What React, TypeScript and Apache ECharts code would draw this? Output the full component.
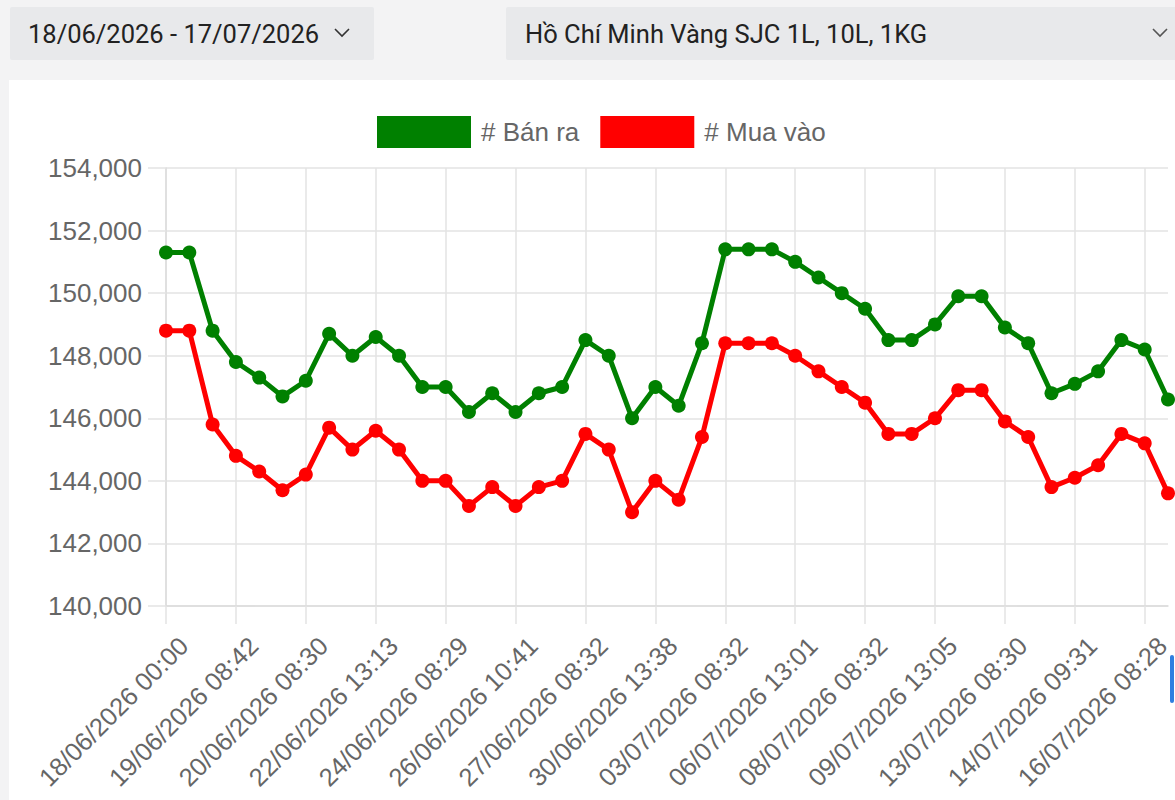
import React, { useEffect, useRef } from 'react';
import * as echarts from 'echarts';

const dateRangeText = '18/06/2026 - 17/07/2026';
const locationText = 'Hồ Chí Minh Vàng SJC 1L, 10L, 1KG';
const legendNames = ['# Bán ra', '# Mua vào'];

const categories = [
  '18/06/2026 00:00', '18/06/2026 08:35', '18/06/2026 13:20',
  '19/06/2026 08:42', '19/06/2026 13:15', '19/06/2026 15:10',
  '20/06/2026 08:30', '20/06/2026 13:40', '22/06/2026 08:35',
  '22/06/2026 13:13', '23/06/2026 08:30', '23/06/2026 13:20',
  '24/06/2026 08:29', '24/06/2026 13:30', '25/06/2026 08:35',
  '26/06/2026 10:41', '26/06/2026 14:05', '26/06/2026 16:20',
  '27/06/2026 08:32', '29/06/2026 08:30', '29/06/2026 13:45',
  '30/06/2026 13:38', '01/07/2026 08:30', '02/07/2026 08:35',
  '03/07/2026 08:32', '04/07/2026 08:30', '06/07/2026 08:30',
  '06/07/2026 13:01', '07/07/2026 08:31', '07/07/2026 13:10',
  '08/07/2026 08:32', '08/07/2026 13:15', '09/07/2026 08:30',
  '09/07/2026 13:05', '10/07/2026 08:30', '11/07/2026 08:35',
  '13/07/2026 08:30', '13/07/2026 13:20', '14/07/2026 08:30',
  '14/07/2026 09:31', '15/07/2026 08:30', '15/07/2026 13:10',
  '16/07/2026 08:28', '17/07/2026 08:30',
];

const banRa = [
  151300, 151300, 148800, 147800, 147300, 146700, 147200, 148700, 148000, 148600,
  148000, 147000, 147000, 146200, 146800, 146200, 146800, 147000, 148500, 148000,
  146000, 147000, 146400, 148400, 151400, 151400, 151400, 151000, 150500, 150000,
  149500, 148500, 148500, 149000, 149900, 149900, 148900, 148400, 146800, 147100,
  147500, 148500, 148200, 146600,
];

const muaVao = [
  148800, 148800, 145800, 144800, 144300, 143700, 144200, 145700, 145000, 145600,
  145000, 144000, 144000, 143200, 143800, 143200, 143800, 144000, 145500, 145000,
  143000, 144000, 143400, 145400, 148400, 148400, 148400, 148000, 147500, 147000,
  146500, 145500, 145500, 146000, 146900, 146900, 145900, 145400, 143800, 144100,
  144500, 145500, 145200, 143600,
];

const yMin = 140000;
const yMax = 154000;
const yStep = 2000;

const chartFont = 'Liberation Sans, Arial, Helvetica, sans-serif';
const uiFont = 'Roboto, Noto Sans, sans-serif';

export default function App() {
  const ref = useRef<HTMLDivElement>(null);

  useEffect(() => {
    document.body.style.margin = '0';
    const chart = echarts.init(ref.current!, null, { renderer: 'svg' });
    chart.setOption({
      animation: false,
      backgroundColor: '#f3f3f4',
      textStyle: { fontFamily: chartFont },
      graphic: [
        { type: 'rect', z: -10, shape: { x: 10, y: 7, width: 364, height: 53, r: 2 }, style: { fill: '#e8e9eb' } },
        { type: 'text', z: -5, style: { text: dateRangeText, x: 28, y: 34, font: `25.5px ${uiFont}`, fill: '#222', verticalAlign: 'middle', align: 'left' } },
        { type: 'polyline', z: -5, shape: { points: [[335, 29], [342, 36], [349, 29]] }, style: { stroke: '#333', lineWidth: 1.6, fill: null } },
        { type: 'rect', z: -10, shape: { x: 506, y: 7, width: 680, height: 53, r: 2 }, style: { fill: '#e8e9eb' } },
        { type: 'text', z: -5, style: { text: locationText, x: 525, y: 34, font: `25.5px ${uiFont}`, fill: '#222', verticalAlign: 'middle', align: 'left' } },
        { type: 'polyline', z: -5, shape: { points: [[1153, 29], [1160, 36], [1167, 29]] }, style: { stroke: '#555', lineWidth: 1.6, fill: null } },
        { type: 'rect', z: -10, shape: { x: 9, y: 80, width: 1180, height: 730 }, style: { fill: '#ffffff' } },
        { type: 'rect', z: 5, shape: { x: 1170, y: 655, width: 4, height: 48, r: 2 }, style: { fill: '#2f7fe0' } },
      ],
      legend: {
        data: legendNames,
        left: 377,
        top: 116,
        padding: 0,
        itemWidth: 94,
        itemHeight: 32,
        itemGap: 21,
        icon: 'rect',
        textStyle: { fontSize: 26, color: '#666', fontFamily: chartFont, padding: [0, 0, 0, 5] },
      },
      grid: { left: 166, right: 7, top: 168, bottom: 194, containLabel: false },
      xAxis: {
        type: 'category',
        data: categories,
        boundaryGap: false,
        axisLine: { show: true, lineStyle: { color: '#dcdcdc', width: 1.5 } },
        axisTick: { show: true, interval: 2, length: 18, lineStyle: { color: '#e3e3e3', width: 1.5 } },
        splitLine: { show: true, interval: 2, lineStyle: { color: '#e3e3e3', width: 1.5 } },
        axisLabel: {
          interval: 2,
          rotate: 45,
          margin: 53,
          padding: [0, -25, 0, 0],
          fontSize: 25.5,
          color: '#666',
          fontFamily: chartFont,
        },
      },
      yAxis: {
        type: 'value',
        min: yMin,
        max: yMax,
        interval: yStep,
        axisLine: { show: true, lineStyle: { color: '#dcdcdc', width: 1.5 } },
        axisTick: { show: true, length: 18, lineStyle: { color: '#e3e3e3', width: 1.5 } },
        splitLine: { show: true, lineStyle: { color: '#e3e3e3', width: 1.5 } },
        axisLabel: {
          margin: 24,
          fontSize: 26,
          color: '#666',
          fontFamily: chartFont,
          formatter: (v: number) => v.toLocaleString('en-US'),
        },
      },
      series: [
        {
          name: legendNames[0],
          type: 'line',
          data: banRa,
          color: '#008000',
          symbol: 'circle',
          symbolSize: 14,
          lineStyle: { width: 5, color: '#008000' },
          itemStyle: { color: '#008000' },
          clip: false,
        },
        {
          name: legendNames[1],
          type: 'line',
          data: muaVao,
          color: '#ff0000',
          symbol: 'circle',
          symbolSize: 14,
          lineStyle: { width: 5, color: '#ff0000' },
          itemStyle: { color: '#ff0000' },
          clip: false,
        },
      ],
    });
    return () => chart.dispose();
  }, []);

  return <div ref={ref} style={{ position: 'fixed', left: 0, top: 0, width: 1175, height: 800 }} />;
}
